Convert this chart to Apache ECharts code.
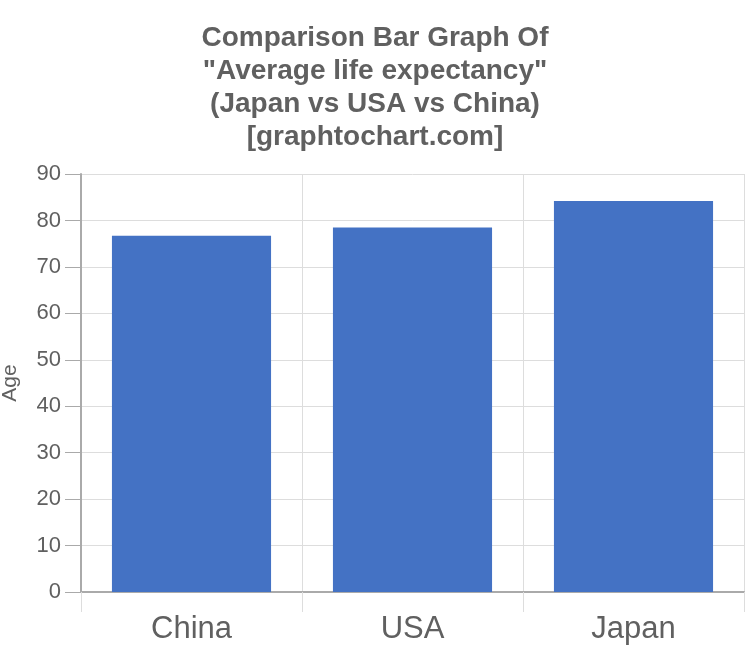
<!DOCTYPE html>
<html>
<head>
<meta charset="utf-8">
<script src="https://cdn.jsdelivr.net/npm/echarts@6/dist/echarts.min.js"></script>
<style>
  html, body { margin: 0; padding: 0; background: #fff; }
  #chart { width: 750px; height: 666px; }
</style>
</head>
<body>
<div id="chart"></div>
<script>
const countries = ['China', 'USA', 'Japan']
const lifeExpectancy = [76.7, 78.5, 84.2]
const titleLines = [
    'Comparison Bar Graph Of',
    '"Average life expectancy"',
    '(Japan vs USA vs China)',
    '[graphtochart.com]'
]

const myChart = echarts.init(document.getElementById('chart'))

const option = {
    animation: false,
    textStyle: { fontFamily: 'Liberation Sans, Arial, sans-serif' },
    title: {
        text: titleLines.join('\n'),
        left: 'center',
        top: 17,
        textStyle: {
            fontSize: 28,
            fontWeight: 'bold',
            color: '#606060',
            lineHeight: 33
        }
    },
    grid: {
        left: 81,
        right: 6,
        top: 174,
        bottom: 74,
        containLabel: false,
        outerBoundsMode: 'none'
    },
    xAxis: {
        type: 'category',
        data: countries,
        axisLine: { lineStyle: { color: '#aaaaaa', width: 2 } },
        axisTick: { show: true, length: 20, lineStyle: { color: '#dddddd' } },
        splitLine: { show: true, lineStyle: { color: '#dddddd' } },
        axisLabel: { fontSize: 31, color: '#606060', margin: 22 }
    },
    yAxis: {
        type: 'value',
        min: 0,
        max: 90,
        interval: 10,
        name: 'Age',
        nameLocation: 'middle',
        nameGap: 60,
        nameTextStyle: { fontSize: 21, color: '#606060' },
        axisLine: { show: true, lineStyle: { color: '#aaaaaa', width: 2 } },
        axisTick: { show: true, length: 16, lineStyle: { color: '#aaaaaa' } },
        splitLine: { lineStyle: { color: '#dddddd' } },
        axisLabel: { fontSize: 22, color: '#606060', margin: 20 }
    },
    series: [
        {
            type: 'bar',
            data: lifeExpectancy,
            barCategoryGap: '28%',
            itemStyle: { color: '#4472c4' }
        }
    ]
}

myChart.setOption(option)
</script>
</body>
</html>
